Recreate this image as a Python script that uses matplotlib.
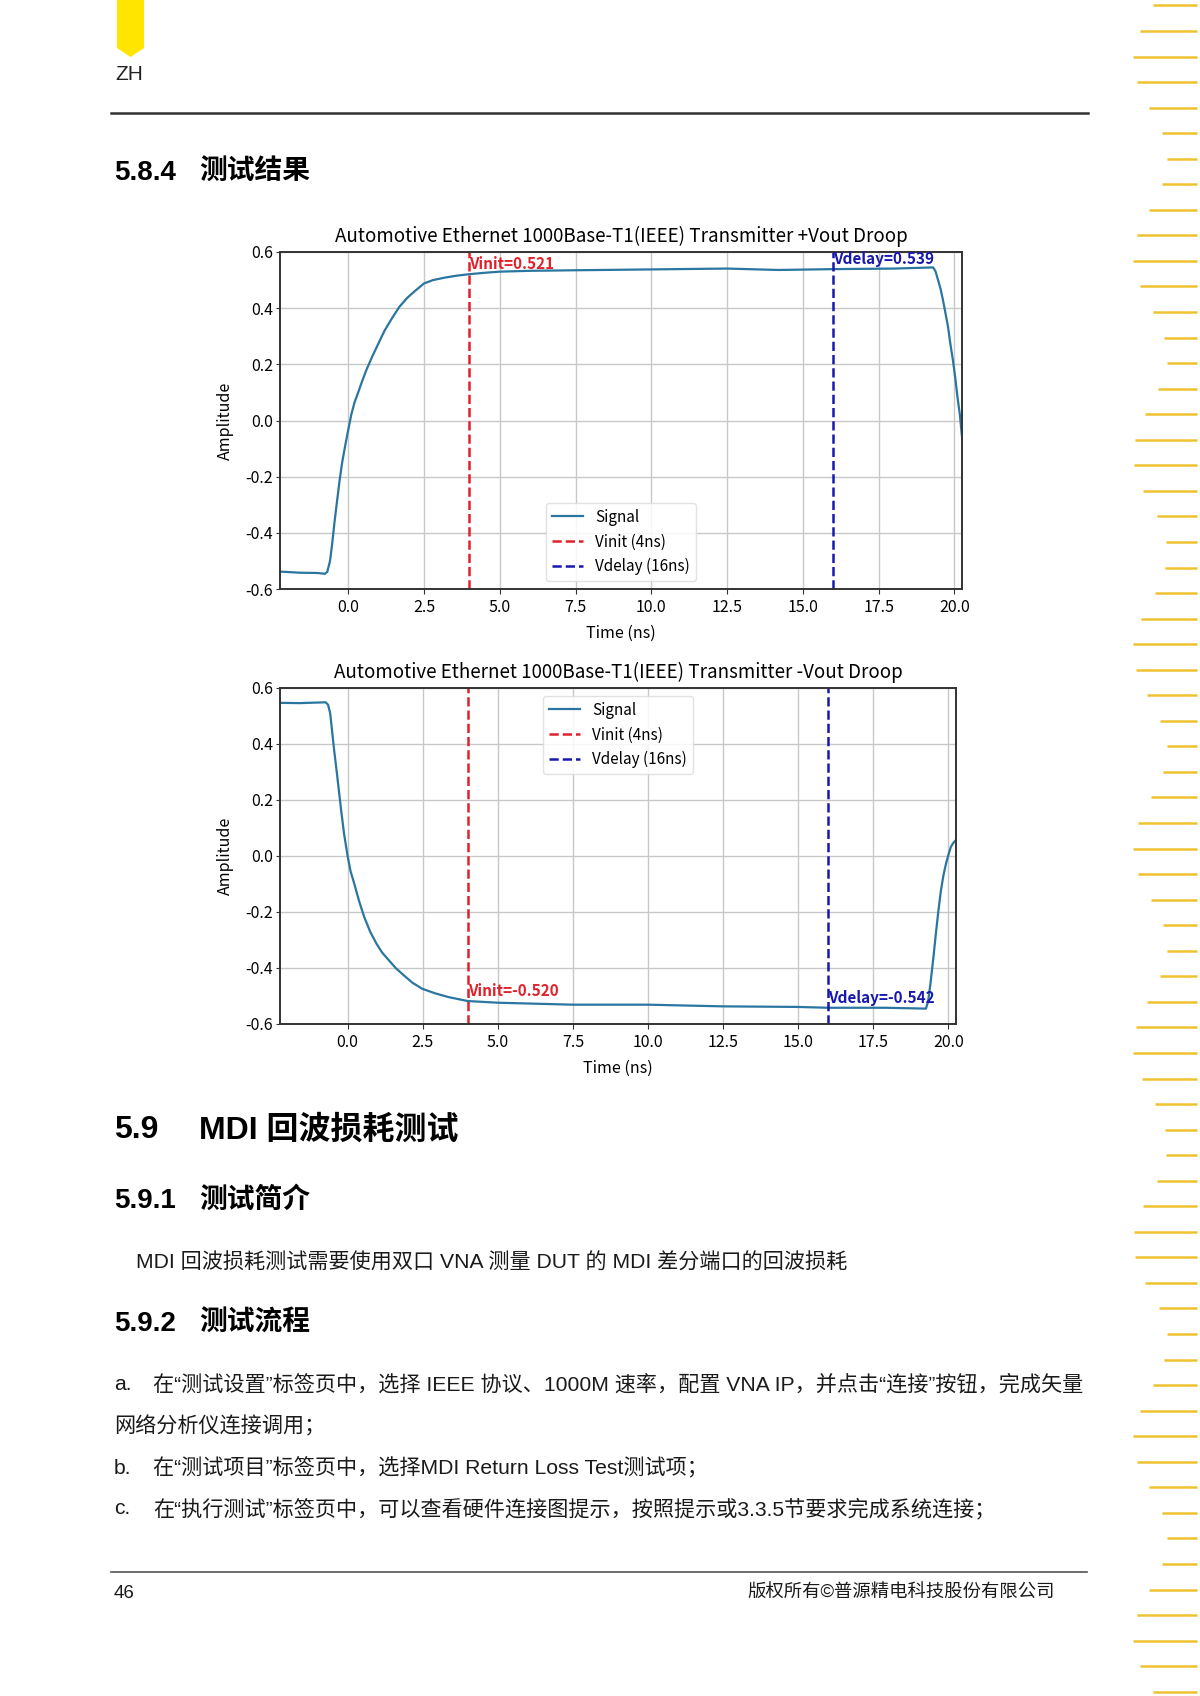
import numpy as np
import matplotlib
matplotlib.use("Agg")
import matplotlib.pyplot as plt
from matplotlib.patches import Polygon

# =========================
# DATA
# =========================
# +Vout droop capture
pos_time = [-2.25, -1.6, -1.0, -0.77, -0.69, -0.6, -0.53, -0.45, -0.36, -0.28, -0.2,
            -0.1, 0.0, 0.1, 0.21, 0.33, 0.46, 0.6, 0.79, 1.0, 1.2, 1.45, 1.69, 1.95,
            2.19, 2.5, 2.8, 3.2, 3.6, 4.0, 4.5, 5.0, 6.0, 7.5, 10.0, 12.5, 14.2,
            16.0, 18.0, 19.3, 19.38, 19.46, 19.54, 19.62, 19.7, 19.79, 19.87, 19.95,
            20.03, 20.1, 20.18, 20.25]
pos_amp = [-0.538, -0.542, -0.543, -0.546, -0.539, -0.50, -0.44, -0.36, -0.28, -0.21,
           -0.15, -0.09, -0.034, 0.02, 0.065, 0.10, 0.14, 0.18, 0.227, 0.275, 0.32,
           0.365, 0.405, 0.437, 0.46, 0.488, 0.500, 0.509, 0.516, 0.521, 0.526,
           0.530, 0.533, 0.535, 0.538, 0.541, 0.536, 0.539, 0.541, 0.545, 0.53,
           0.50, 0.47, 0.43, 0.385, 0.333, 0.27, 0.215, 0.15, 0.084, 0.02, -0.058]

# -Vout droop capture
neg_time = [-2.25, -1.6, -1.0, -0.73, -0.65, -0.58, -0.5, -0.45, -0.35, -0.28, -0.2,
            -0.12, 0.0, 0.1, 0.22, 0.38, 0.55, 0.75, 0.96, 1.15, 1.37, 1.6, 1.87,
            2.15, 2.48, 2.9, 3.36, 4.0, 5.0, 7.5, 10.0, 12.5, 14.95, 16.0, 17.9,
            19.25, 19.32, 19.4, 19.5, 19.58, 19.67, 19.75, 19.83, 19.92, 20.0,
            20.08, 20.17, 20.25]
neg_amp = [0.547, 0.546, 0.548, 0.549, 0.54, 0.51, 0.43, 0.38, 0.29, 0.224, 0.15,
           0.081, 0.0, -0.055, -0.098, -0.16, -0.217, -0.27, -0.313, -0.345, -0.372,
           -0.40, -0.426, -0.452, -0.474, -0.49, -0.504, -0.518, -0.524, -0.531,
           -0.531, -0.537, -0.539, -0.542, -0.542, -0.545, -0.52, -0.456, -0.36,
           -0.277, -0.19, -0.122, -0.07, -0.026, 0.005, 0.033, 0.048, 0.057]

vinit_t = 4
vdelay_t = 16
pos_vinit, pos_vdelay = 0.521, 0.539
neg_vinit, neg_vdelay = -0.520, -0.542

x_ticks = [0.0, 2.5, 5.0, 7.5, 10.0, 12.5, 15.0, 17.5, 20.0]
y_ticks = [-0.6, -0.4, -0.2, 0.0, 0.2, 0.4, 0.6]

titles = ["Automotive Ethernet 1000Base-T1(IEEE) Transmitter +Vout Droop",
          "Automotive Ethernet 1000Base-T1(IEEE) Transmitter -Vout Droop"]
legend_labels = ["Signal", "Vinit (4ns)", "Vdelay (16ns)"]

# =========================
# PAGE SETUP
# =========================
W, H = 1200, 1696
fig = plt.figure(figsize=(W / 100, H / 100), dpi=100)
fig.patch.set_facecolor("white")

page = fig.add_axes([0, 0, 1, 1])
page.set_xlim(0, W)
page.set_ylim(H, 0)
page.axis("off")

PAGE_FONT = ["Liberation Sans", "Noto Sans CJK SC", "DejaVu Sans"]
CHART_FONT = ["Noto Sans CJK SC", "DejaVu Sans"]

# yellow tab + ZH
page.add_patch(Polygon([(117, 0), (144, 0), (144, 48), (130.5, 57), (117, 48)],
                       closed=True, color="#FFE500", lw=0))
page.text(115, 74, "ZH", fontsize=15, family=PAGE_FONT, va="center", color="#222222")

# header / footer rules
page.plot([111, 1088], [113, 113], color="#333333", lw=1.8)
page.plot([111, 1087], [1572, 1572], color="#555555", lw=1.2)

# right stripe decoration
for k in range(70):
    y = 5.4 + 25.55 * k
    if y > H:
        break
    x0 = 1150 + 17 * np.cos(2 * np.pi * (k - 6) / 7.714)
    page.plot([x0, 1197], [y, y], color="#F0C232", lw=1.8, solid_capstyle="butt")

# headings
def heading(y, num, txt, size):
    page.text(114, y, num, fontsize=size, fontweight="bold", family=PAGE_FONT,
              va="center", color="black")
    page.text(199, y, txt, fontsize=size, fontweight="bold", family=PAGE_FONT,
              va="center", color="black")

heading(173, "5.8.4", "测试结果", 20)
heading(1130, "5.9", "MDI 回波损耗测试", 23)
heading(1201, "5.9.1", "测试简介", 20)
heading(1324, "5.9.2", "测试流程", 20)

body_kw = dict(fontsize=15.2, family=PAGE_FONT, va="center", color="#1a1a1a")
page.text(136, 1263, "MDI 回波损耗测试需要使用双口 VNA 测量 DUT 的 MDI 差分端口的回波损耗", **body_kw)
page.text(114, 1384, "a.", **body_kw)
page.text(153, 1384, "在“测试设置”标签页中，选择 IEEE 协议、1000M 速率，配置 VNA IP，并点击“连接”按钮，完成矢量", **body_kw)
page.text(114, 1426, "网络分析仪连接调用；", **body_kw)
page.text(114, 1468, "b.", **body_kw)
page.text(153, 1468, "在“测试项目”标签页中，选择MDI Return Loss Test测试项；", **body_kw)
page.text(114, 1509, "c.", **body_kw)
page.text(153, 1509, "在“执行测试”标签页中，可以查看硬件连接图提示，按照提示或3.3.5节要求完成系统连接；", **body_kw)

# footer
page.text(114, 1593, "46", fontsize=13.5, family=PAGE_FONT, va="center", color="#1a1a1a")
page.text(1055, 1593, "版权所有©普源精电科技股份有限公司", fontsize=13.2, family=PAGE_FONT,
          va="center", ha="right", color="#1a1a1a")

# =========================
# CHARTS
# =========================
def px_axes(left, top, right, bottom):
    return fig.add_axes([left / W, 1 - bottom / H, (right - left) / W, (bottom - top) / H])

def droop_plot(ax, t, v, title, vi, vd, legend_loc):
    ax.plot(t, v, color="#2a76a0", lw=1.6, label=legend_labels[0])
    ax.axvline(vinit_t, color="#e0202a", ls="--", lw=1.8, label=legend_labels[1])
    ax.axvline(vdelay_t, color="#1818b0", ls="--", lw=1.8, label=legend_labels[2])
    ax.text(vinit_t, vi + 0.008, f"Vinit={vi:.3f}", color="#e0202a", fontsize=11,
            fontweight="bold", family=CHART_FONT, va="bottom", ha="left")
    ax.text(vdelay_t, vd + 0.008, f"Vdelay={vd:.3f}", color="#1818b0", fontsize=11,
            fontweight="bold", family=CHART_FONT, va="bottom", ha="left")
    ax.set_xlim(-2.25, 20.25)
    ax.set_ylim(-0.6, 0.6)
    ax.set_xticks(x_ticks)
    ax.set_yticks(y_ticks)
    ax.set_xticklabels([f"{x:.1f}" for x in x_ticks], family=CHART_FONT, fontsize=11.5)
    ax.set_yticklabels([f"{y:.1f}" for y in y_ticks], family=CHART_FONT, fontsize=11.5)
    ax.tick_params(axis="x", length=3.5, pad=4, color="#333333")
    ax.tick_params(axis="y", length=3, pad=2, color="#333333")
    ax.grid(True, color="#c8c8c8", lw=1.0)
    ax.set_axisbelow(True)
    for s in ax.spines.values():
        s.set_color("#333333")
        s.set_linewidth(1.4)
    ax.set_title(title, family=CHART_FONT, fontsize=13.5, pad=7.5)
    ax.set_xlabel("Time (ns)", family=CHART_FONT, fontsize=11.5, labelpad=6)
    ax.set_ylabel("Amplitude", family=CHART_FONT, fontsize=11.5, labelpad=8)
    ax.legend(loc=legend_loc, prop={"family": CHART_FONT, "size": 11},
              framealpha=0.85, edgecolor="#dddddd", fancybox=True)

ax1 = px_axes(280, 252, 962, 589)
droop_plot(ax1, pos_time, pos_amp, titles[0], pos_vinit, pos_vdelay, "lower center")

ax2 = px_axes(280, 688, 956, 1024)
droop_plot(ax2, neg_time, neg_amp, titles[1], neg_vinit, neg_vdelay, "upper center")

fig.savefig("out.png", dpi=100, facecolor="white")
plt.close(fig)
